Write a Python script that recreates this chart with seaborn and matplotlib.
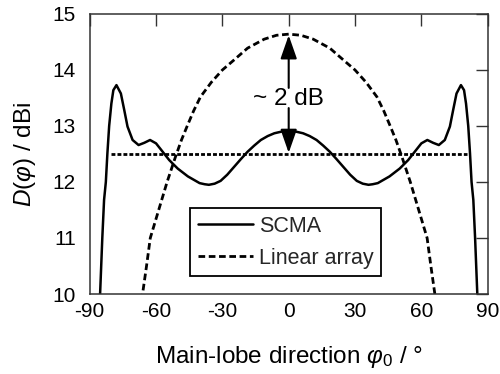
import matplotlib
matplotlib.use("Agg")
import matplotlib.pyplot as plt
import seaborn as sns
import pandas as pd

# ---- data ----
phi_scma_left = [-86.0, -85.3, -84.3, -83.5, -82.7, -82.0, -81.2, -80.2, -79.3, -77.9,
                 -75.9, -74.4, -72.9, -70.6, -67.9, -65.3, -62.7, -60.0, -57.0, -54.0,
                 -50.2, -45.6, -40.3, -38.0, -36.1, -33.5, -30.8, -27.8, -24.7, -21.6,
                 -18.6, -15.6, -12.6, -9.5, -6.5, -3.2, 0.0]
d_scma_left = [9.5, 10.0, 11.0, 11.68, 12.0, 12.51, 13.0, 13.40, 13.64, 13.73,
               13.58, 13.29, 12.99, 12.75, 12.66, 12.70, 12.75, 12.69, 12.54, 12.39,
               12.24, 12.10, 11.98, 11.96, 11.95, 11.97, 12.02, 12.13, 12.27, 12.41,
               12.54, 12.65, 12.75, 12.82, 12.87, 12.90, 12.91]
phi_scma_right = [3.2, 6.5, 9.5, 12.6, 15.6, 18.6, 21.6, 24.7, 27.8, 30.8, 33.5, 36.1,
                  38.0, 40.3, 45.6, 50.2, 54.0, 57.0, 60.0, 62.7, 65.3, 67.9, 70.6, 72.9,
                  74.4, 75.9, 77.9, 79.3, 80.2, 81.2, 82.0, 82.7, 83.5, 84.3, 85.3, 86.0]
d_scma_right = [12.90, 12.87, 12.82, 12.75, 12.65, 12.54, 12.41, 12.27, 12.13, 12.02, 11.97, 11.95,
                11.96, 11.98, 12.10, 12.24, 12.39, 12.54, 12.69, 12.75, 12.70, 12.66, 12.75, 12.99,
                13.29, 13.58, 13.73, 13.64, 13.40, 13.0, 12.51, 12.0, 11.68, 11.0, 10.0, 9.5]

phi_lin = [-67.0, -66.1, -64.3, -62.6, -58.8, -55.0, -51.2, -48.5, -45.9, -43.0, -39.9,
           -35.0, -30.0, -24.7, -18.6, -11.1, -5.5, 0.0,
           5.5, 11.1, 18.6, 24.7, 30.0, 35.0, 39.9, 43.0, 45.9, 48.5, 51.2, 55.0, 58.8,
           62.6, 64.3, 66.1, 67.0]
d_lin = [9.7, 10.0, 10.5, 11.0, 11.5, 12.0, 12.45, 12.75, 13.0, 13.27, 13.52,
         13.78, 14.0, 14.18, 14.39, 14.55, 14.62, 14.64,
         14.62, 14.55, 14.39, 14.18, 14.0, 13.78, 13.52, 13.27, 13.0, 12.75, 12.45, 12.0, 11.5,
         11.0, 10.5, 10.0, 9.7]

phi_ref = [-80.3, 80.6]
d_ref = [12.5, 12.5]

labels = ["SCMA", "Linear array"]
x_ticks = [-90, -60, -30, 0, 30, 60, 90]
y_ticks = [10, 11, 12, 13, 14, 15]

sns.set_theme(style="white")
plt.rcParams["font.family"] = ["Liberation Sans", "DejaVu Sans"]
plt.rcParams["mathtext.fontset"] = "custom"
plt.rcParams["mathtext.rm"] = "Liberation Sans"
plt.rcParams["mathtext.it"] = "Liberation Sans:italic"
plt.rcParams["axes.unicode_minus"] = False

fig = plt.figure(figsize=(5.0, 3.74), dpi=100)
ax = fig.add_axes([0.1794, 0.2139, 0.796, 0.7487])

df_s = pd.DataFrame({"phi": phi_scma_left + phi_scma_right, "D": d_scma_left + d_scma_right})
df_l = pd.DataFrame({"phi": phi_lin, "D": d_lin})
df_r = pd.DataFrame({"phi": phi_ref, "D": d_ref})

sns.lineplot(data=df_s, x="phi", y="D", ax=ax, color="black", lw=1.8, sort=False,
             estimator=None, label=labels[0])
sns.lineplot(data=df_l, x="phi", y="D", ax=ax, color="black", lw=2.0, sort=False,
             estimator=None, label=labels[1])
ax.lines[-1].set_dashes([2.4, 1.3])
sns.lineplot(data=df_r, x="phi", y="D", ax=ax, color="black", lw=2.0, sort=False,
             estimator=None, legend=False)
ax.lines[-1].set_dashes([1.4, 0.75])

ax.set_xlim(-90, 90)
ax.set_ylim(10, 15)
ax.set_xticks(x_ticks)
ax.set_yticks(y_ticks)
ax.set_xticklabels([str(t) for t in x_ticks])
ax.set_yticklabels([str(t) for t in y_ticks])
ax.tick_params(direction="in", length=8.5, width=1.0, color="#333333",
               top=True, right=True, labelsize=15, labelcolor="black")
ax.tick_params(axis="x", labeltop=False, pad=6)
ax.tick_params(axis="y", labelright=False, pad=10)
for sp in ax.spines.values():
    sp.set_linewidth(1.1)
    sp.set_color("#333333")

ax.set_xlabel(r"Main-lobe direction $\varphi_0$ / °", fontsize=17.5, color="black")
ax.set_ylabel(r"$D(\varphi)$ / dBi", fontsize=17.5, color="black")
ax.xaxis.set_label_coords(0.5, -0.18)
ax.yaxis.set_label_coords(-0.13, 0.5)

# annotation
arrow_kw = dict(arrowstyle="-|>,head_length=1.2,head_width=0.42", color="black", lw=1.5,
                shrinkA=0, shrinkB=0)
ax.annotate("", xy=(0, 14.62), xytext=(0, 13.68), arrowprops=arrow_kw)
ax.annotate("", xy=(0, 12.52), xytext=(0, 13.32), arrowprops=arrow_kw)
ax.text(0, 13.49, "~ 2 dB", ha="center", va="center", fontsize=17.5, color="black")

leg = ax.legend(loc="lower left", bbox_to_anchor=(0.253, 0.064), borderaxespad=0,
                fontsize=15.5, frameon=True, fancybox=False, framealpha=1,
                edgecolor="black", handlelength=2.55, handletextpad=0.3,
                labelspacing=0.5, borderpad=0.35)
leg.get_frame().set_linewidth(1.3)

fig.savefig("out.png", dpi=100)
